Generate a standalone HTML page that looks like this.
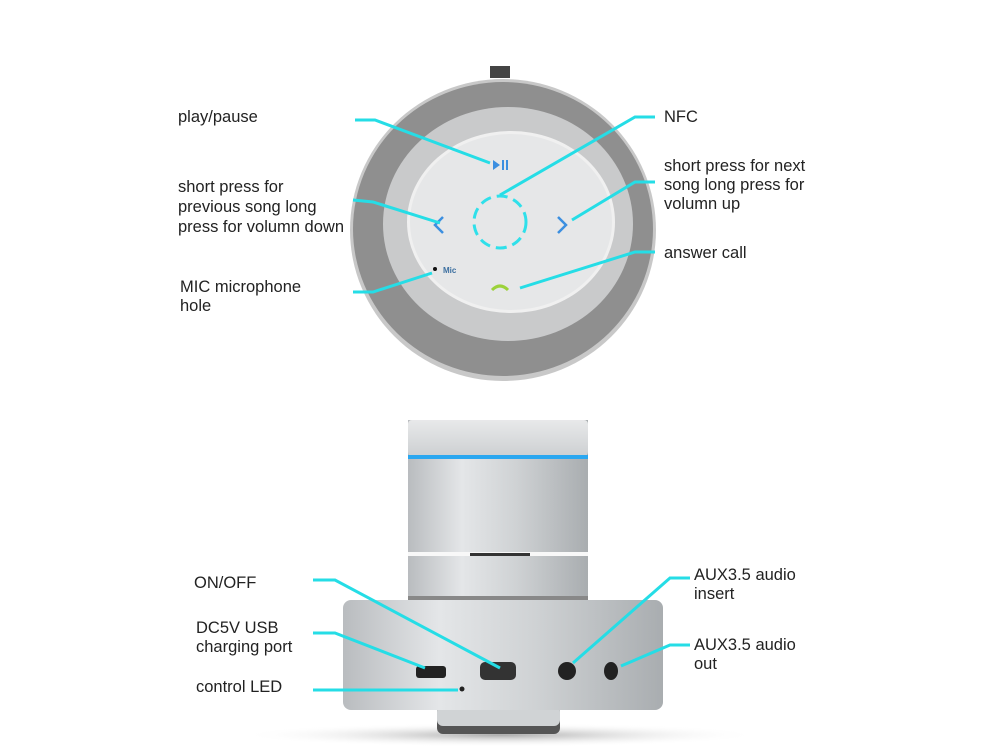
<!DOCTYPE html>
<html><head><meta charset="utf-8"><style>
body{margin:0;background:#fff;}
svg{display:block}
text{font-family:"Liberation Sans",Arial,sans-serif;font-size:16.5px;fill:#222}
</style></head><body>
<svg width="1000" height="750" viewBox="0 0 1000 750" xmlns="http://www.w3.org/2000/svg">
<defs>
<linearGradient id="cyl" x1="0" x2="1" y1="0" y2="0">
<stop offset="0" stop-color="#b9bcbf"/><stop offset="0.3" stop-color="#e4e6e8"/><stop offset="0.6" stop-color="#cfd2d4"/><stop offset="1" stop-color="#a9adb0"/></linearGradient>
<linearGradient id="cap" x1="0" x2="0" y1="0" y2="1"><stop offset="0" stop-color="#e8e9ea"/><stop offset="1" stop-color="#cdd0d2"/></linearGradient>
<radialGradient id="sh" cx="0.5" cy="0.5" r="0.5"><stop offset="0" stop-color="#aaa"/><stop offset="1" stop-color="#fff" stop-opacity="0"/></radialGradient>
</defs>
<rect x="490" y="66" width="20" height="12" fill="#444"/>
<ellipse cx="503" cy="230" rx="153" ry="151" fill="#c8c8c8"/>
<ellipse cx="503" cy="229" rx="150" ry="147" fill="#8f8f8f"/>
<ellipse cx="508" cy="224" rx="125" ry="117" fill="#c9cacb"/>
<ellipse cx="511" cy="222" rx="104" ry="91" fill="#f0f0f0"/>
<ellipse cx="511" cy="222" rx="101" ry="88" fill="#e6e7e8"/>
<circle cx="500" cy="222" r="26" fill="none" stroke="#2fe0ea" stroke-width="3" stroke-dasharray="11 6"/>
<path d="M443 217 L435 225 L443 233" fill="none" stroke="#3c8fe0" stroke-width="2.5"/>
<path d="M558 217 L566 225 L558 233" fill="none" stroke="#3c8fe0" stroke-width="2.5"/>
<path d="M493 160 L500 165 L493 170Z M502 160h2v10h-2z M506 160h2v10h-2z" fill="#3c8fe0"/>
<circle cx="435" cy="269" r="2" fill="#111"/>
<text x="443" y="273" style="font-size:8px;font-weight:bold;fill:#3c6fa0">Mic</text>
<path d="M492 290 Q500 282 508 290" fill="none" stroke="#9cd23a" stroke-width="3"/>
<ellipse cx="500" cy="735" rx="260" ry="12" fill="url(#sh)"/>
<rect x="437" y="706" width="123" height="28" rx="6" fill="#555"/>
<rect x="437" y="706" width="123" height="20" rx="6" fill="#d0d3d5"/>
<rect x="343" y="600" width="320" height="110" rx="8" fill="url(#cyl)"/>
<rect x="408" y="420" width="180" height="180" fill="url(#cyl)"/>
<rect x="408" y="420" width="180" height="36" rx="4" fill="url(#cap)"/>
<rect x="408" y="455" width="180" height="4" fill="#2aa7f0"/>
<rect x="408" y="552" width="180" height="4" fill="#f8f8f8"/>
<rect x="470" y="553" width="60" height="3" fill="#333"/>
<rect x="408" y="596" width="180" height="4" fill="#888"/>
<rect x="416" y="666" width="30" height="12" rx="3" fill="#222"/>
<rect x="480" y="662" width="36" height="18" rx="5" fill="#333"/>
<circle cx="567" cy="671" r="9" fill="#222"/>
<ellipse cx="611" cy="671" rx="7" ry="9" fill="#222"/>
<circle cx="462" cy="689" r="2.5" fill="#222"/>
<g fill="none" stroke="#25dde6" stroke-width="3">
<polyline points="355,120 375,120 490,163"/>
<polyline points="353,200 373,202 440,223"/>
<polyline points="353,292 373,292 432,273"/>
<polyline points="655,117 635,117 500,195"/>
<polyline points="655,182 635,182 572,220"/>
<polyline points="655,252 635,252 520,288"/>
<polyline points="313,580 335,580 500,668"/>
<polyline points="313,633 335,633 425,668"/>
<polyline points="313,690 458,690"/>
<polyline points="690,578 670,578 573,663"/>
<polyline points="690,645 670,645 621,666"/>
</g>
<text x="178" y="122">play/pause</text>
<text x="178" y="192">short press for</text>
<text x="178" y="212">previous song long</text>
<text x="178" y="232">press for volumn down</text>
<text x="180" y="292">MIC microphone</text>
<text x="180" y="311">hole</text>
<text x="664" y="122">NFC</text>
<text x="664" y="171">short press for next</text>
<text x="664" y="190">song long press for</text>
<text x="664" y="209">volumn up</text>
<text x="664" y="258">answer call</text>
<text x="194" y="588">ON/OFF</text>
<text x="196" y="633">DC5V USB</text>
<text x="196" y="652">charging port</text>
<text x="196" y="692">control LED</text>
<text x="694" y="580">AUX3.5 audio</text>
<text x="694" y="599">insert</text>
<text x="694" y="650">AUX3.5 audio</text>
<text x="694" y="669">out</text>
</svg>
</body></html>
